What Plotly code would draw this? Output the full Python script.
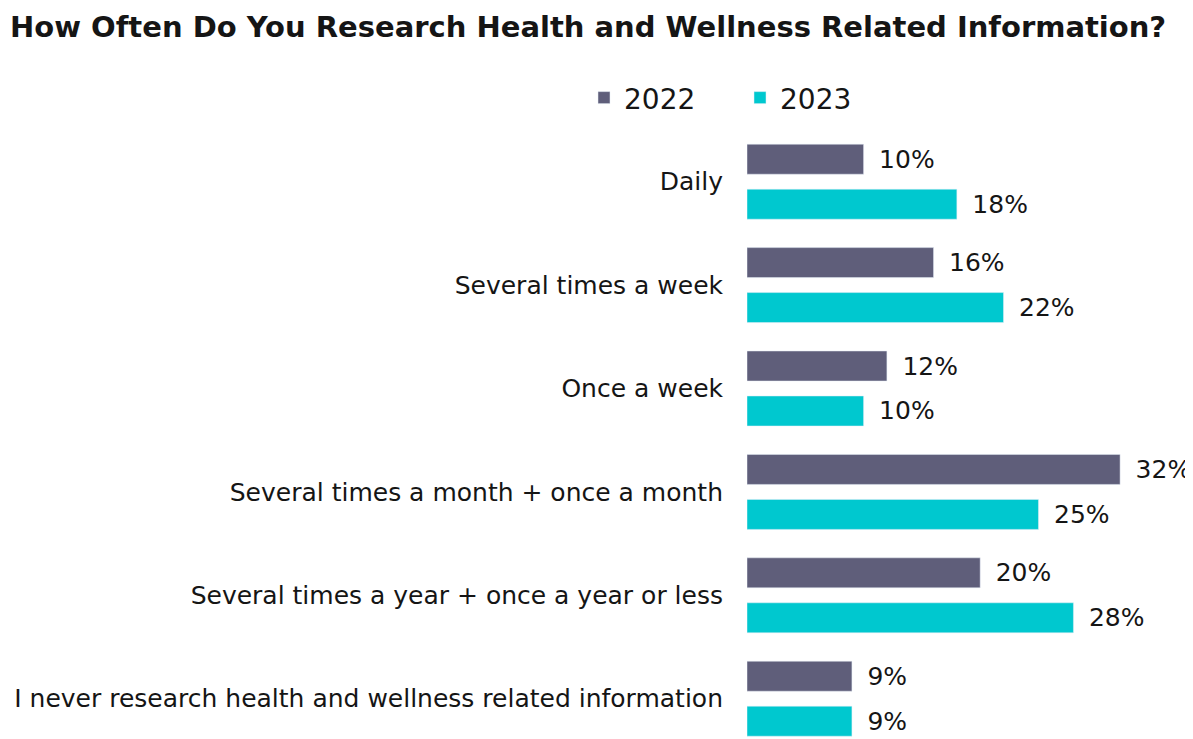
import plotly.graph_objects as go

categories = [
    "Daily",
    "Several times a week",
    "Once a week",
    "Several times a month + once a month",
    "Several times a year + once a year or less",
    "I never research health and wellness related information",
]
values_2022 = [10, 16, 12, 32, 20, 9]
values_2023 = [18, 22, 10, 25, 28, 9]

FONT = "DejaVu Sans"
C2022 = "#5f5e7a"
C2023 = "#00c8cf"
TXT = "#151515"

fig = go.Figure()
for name, vals, col in [("2022", values_2022, C2022), ("2023", values_2023, C2023)]:
    fig.add_trace(go.Bar(
        y=categories, x=vals, name=name, orientation="h",
        marker_color=col, texttemplate="\u2002%{x}%", textposition="outside",
        textfont=dict(family=FONT, size=25, color=TXT), cliponaxis=False,
    ))

fig.update_layout(
    width=1193, height=739,
    paper_bgcolor="white", plot_bgcolor="white",
    barmode="group", bargap=0.13, bargroupgap=0.333,
    margin=dict(l=739, r=0, t=122, b=0),
    title=dict(text="<b>How Often Do You Research Health and Wellness Related Information?</b>",
               x=0.0017, xanchor="left", y=0.974, yanchor="middle",
               font=dict(family=FONT, size=29, color=TXT)),
    legend=dict(orientation="h", x=-0.359, xanchor="left", y=1.052, yanchor="middle",
                font=dict(family=FONT, size=28, color=TXT),
                traceorder="normal", itemwidth=30, entrywidth=111,
                bgcolor="rgba(0,0,0,0)"),
    showlegend=True,
)
fig.update_xaxes(range=[0, 38.94], visible=False, fixedrange=True)
fig.update_yaxes(
    type="category", range=[5.467, -0.5], showline=False, showgrid=False,
    ticks="", ticklabelstandoff=23,
    tickfont=dict(family=FONT, size=25, color=TXT),
)

fig.write_html("out.html")
